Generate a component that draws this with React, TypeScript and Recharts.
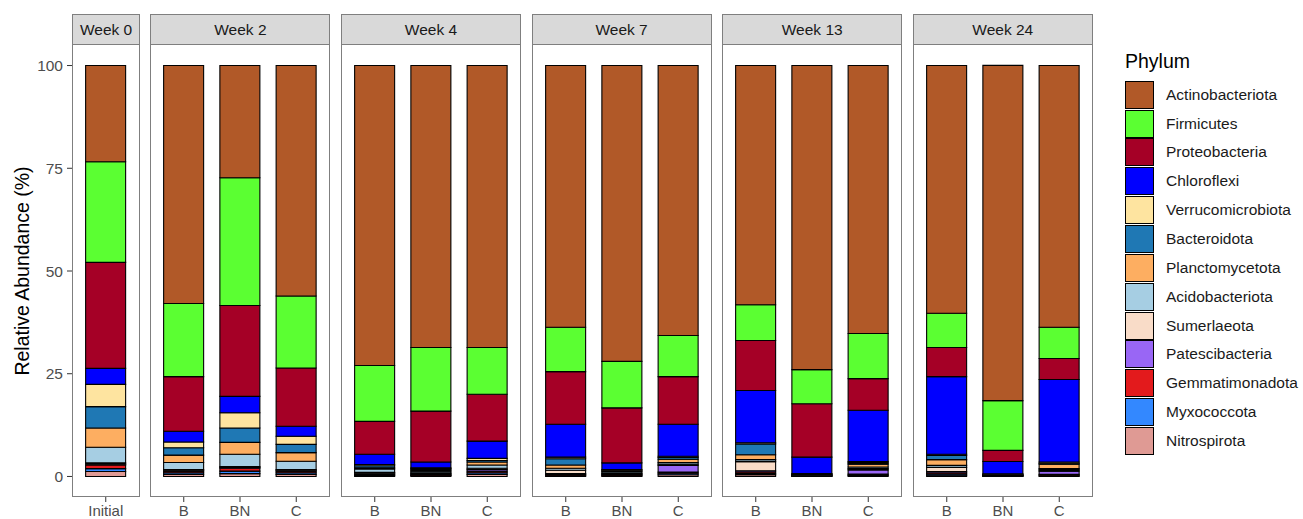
import React from "react";
import { Bar, BarChart, XAxis, YAxis } from "recharts";

const phyla = [
  "Actinobacteriota",
  "Firmicutes",
  "Proteobacteria",
  "Chloroflexi",
  "Verrucomicrobiota",
  "Bacteroidota",
  "Planctomycetota",
  "Acidobacteriota",
  "Sumerlaeota",
  "Patescibacteria",
  "Gemmatimonadota",
  "Myxococcota",
  "Nitrospirota",
];

const phylumColors = [
  "#B15928",
  "#5BFF32",
  "#A50026",
  "#0000FF",
  "#FEE4A0",
  "#1F78B4",
  "#FDAE61",
  "#A6CEE3",
  "#F9DCC8",
  "#9966F5",
  "#E31A1C",
  "#3388FF",
  "#DF9A94",
];

const weeks = ["Week 0", "Week 2", "Week 4", "Week 7", "Week 13", "Week 24"];

// one entry per bar, left to right
const sampleLabels = ["Initial", "B", "BN", "C", "B", "BN", "C", "B", "BN", "C", "B", "BN", "C", "B", "BN", "C"];
const sampleWeek = [0, 1, 1, 1, 2, 2, 2, 3, 3, 3, 4, 4, 4, 5, 5, 5];

// relative abundance (%) per phylum, same order as sampleLabels
const actinobacteriota = [23.4, 57.9, 27.3, 56.1, 73.0, 68.6, 68.6, 63.7, 72.0, 65.7, 58.2, 74.0, 65.2, 60.3, 81.6, 63.7];
const firmicutes = [24.5, 17.8, 31.1, 17.5, 13.6, 15.5, 11.4, 10.8, 11.3, 10.0, 8.7, 8.3, 11.0, 8.3, 12.1, 7.6];
const proteobacteria = [25.8, 13.3, 22.1, 14.2, 8.0, 12.4, 11.4, 12.8, 13.4, 11.6, 12.2, 13.0, 7.7, 7.1, 2.7, 5.1];
const chloroflexi = [3.9, 2.6, 4.0, 2.4, 2.5, 1.4, 4.2, 8.0, 1.6, 7.8, 12.7, 4.0, 12.5, 18.9, 3.0, 20.1];
const verrucomicrobiota = [5.4, 1.4, 3.7, 2.0, 0.3, 0.2, 0.5, 0.4, 0.2, 0.3, 0.3, 0.1, 0.3, 0.3, 0.1, 0.3];
const bacteroidota = [5.2, 1.8, 3.5, 2.0, 0.5, 0.3, 0.4, 1.5, 0.2, 0.4, 2.6, 0.1, 0.3, 1.0, 0.1, 0.2];
const planctomycetota = [4.7, 1.8, 2.9, 2.1, 0.3, 0.3, 0.7, 0.8, 0.2, 0.8, 1.2, 0.1, 0.7, 1.4, 0.1, 1.1];
const acidobacteriota = [3.8, 1.7, 3.0, 2.0, 0.8, 0.4, 0.8, 0.5, 0.4, 0.4, 0.5, 0.1, 0.4, 0.5, 0.1, 0.3];
const sumerlaeota = [0.3, 0.2, 0.2, 0.2, 0.2, 0.2, 0.3, 0.8, 0.1, 0.3, 2.2, 0.1, 0.3, 1.0, 0.05, 0.3];
const patescibacteria = [0.2, 0.2, 0.2, 0.2, 0.2, 0.2, 0.4, 0.2, 0.2, 1.6, 0.3, 0.05, 1.0, 0.3, 0.05, 0.8];
const gemmatimonadota = [0.9, 0.4, 0.7, 0.4, 0.2, 0.2, 0.4, 0.2, 0.1, 0.3, 0.4, 0.05, 0.2, 0.3, 0.05, 0.2];
const myxococcota = [0.7, 0.4, 0.6, 0.4, 0.2, 0.1, 0.4, 0.2, 0.2, 0.4, 0.3, 0.05, 0.2, 0.3, 0.05, 0.2];
const nitrospirota = [1.2, 0.5, 0.7, 0.5, 0.2, 0.2, 0.5, 0.1, 0.1, 0.4, 0.4, 0.05, 0.2, 0.3, 0.05, 0.1];

const yTicks = [0, 25, 50, 75, 100];

const phylumValues = [
  actinobacteriota,
  firmicutes,
  proteobacteria,
  chloroflexi,
  verrucomicrobiota,
  bacteroidota,
  planctomycetota,
  acidobacteriota,
  sumerlaeota,
  patescibacteria,
  gemmatimonadota,
  myxococcota,
  nitrospirota,
];

const FONT = "'Liberation Sans', Arial, Helvetica, sans-serif";
const BORDER = "#7F7F7F";

// layout (ggplot-like free-space facets)
const UNIT = 56.25;
const GAP = 10.6;
const LEFT0 = 72.3;
const STRIP_TOP = 14;
const STRIP_H = 31;
const PANEL_TOP = 45;
const PANEL_H = 452;
const AXIS_H = 26;
const Y_AXIS_W = 72;

function rowsFor(week: number) {
  const rows: Record<string, string | number>[] = [];
  sampleLabels.forEach((label, i) => {
    if (sampleWeek[i] !== week) return;
    const row: Record<string, string | number> = { label };
    phyla.forEach((p, k) => {
      row[p] = phylumValues[k][i];
    });
    rows.push(row);
  });
  return rows;
}

function Facet({ week, left, width }: { week: number; left: number; width: number }) {
  const data = rowsFor(week);
  const withAxis = week === 0;
  const chartLeft = withAxis ? left - Y_AXIS_W : left;
  const chartWidth = withAxis ? width + Y_AXIS_W : width;
  const pad = UNIT * 0.1;

  return (
    <>
      <div
        style={{
          position: "absolute",
          left,
          top: STRIP_TOP,
          width,
          height: STRIP_H,
          boxSizing: "border-box",
          background: "#D9D9D9",
          border: `1px solid ${BORDER}`,
          display: "flex",
          alignItems: "center",
          justifyContent: "center",
          fontSize: 15.5,
          color: "#1A1A1A",
        }}
      >
        {weeks[week]}
      </div>
      <div style={{ position: "absolute", left: chartLeft, top: PANEL_TOP }}>
        <BarChart
          width={chartWidth}
          height={PANEL_H + AXIS_H}
          data={data}
          margin={{ top: 0, right: 0, bottom: 0, left: 0 }}
        >
          <XAxis
            dataKey="label"
            height={AXIS_H}
            interval={0}
            axisLine={false}
            tickSize={5}
            tickMargin={3}
            tickLine={{ stroke: "#333333" }}
            tick={{ fill: "#4D4D4D", fontSize: 15, fontFamily: FONT }}
            padding={{ left: pad, right: pad }}
          />
          <YAxis
            hide={!withAxis}
            width={Y_AXIS_W}
            type="number"
            domain={[-5, 105]}
            ticks={yTicks}
            axisLine={false}
            tickSize={5}
            tickMargin={4}
            tickLine={{ stroke: "#333333" }}
            tick={{ fill: "#4D4D4D", fontSize: 15.5, fontFamily: FONT }}
          />
          {phyla
            .map((p, k) => (
              <Bar
                key={p}
                dataKey={p}
                stackId="a"
                fill={phylumColors[k]}
                stroke="#000000"
                strokeWidth={1.1}
                barSize={40}
                isAnimationActive={false}
              />
            ))
            .reverse()}
        </BarChart>
      </div>
      <div
        style={{
          position: "absolute",
          left,
          top: PANEL_TOP - 1,
          width,
          height: PANEL_H + 1,
          boxSizing: "border-box",
          border: `1px solid ${BORDER}`,
          pointerEvents: "none",
        }}
      />
    </>
  );
}

export default function App() {
  const counts = weeks.map((_, w) => sampleWeek.filter((s) => s === w).length);
  let x = LEFT0;
  const facets = counts.map((n, w) => {
    const width = (n + 0.2) * UNIT;
    const f = <Facet key={w} week={w} left={x} width={width} />;
    x += width + GAP;
    return f;
  });

  return (
    <div
      style={{
        position: "absolute",
        left: 0,
        top: 0,
        width: 1303,
        height: 519,
        overflow: "hidden",
        background: "#FFFFFF",
        fontFamily: FONT,
      }}
    >
      <div
        style={{
          position: "absolute",
          left: 22,
          top: PANEL_TOP + PANEL_H / 2,
          transform: "translate(-50%, -50%) rotate(-90deg)",
          whiteSpace: "nowrap",
          fontSize: 19.5,
          color: "#000000",
        }}
      >
        Relative Abundance (%)
      </div>
      {facets}
      <div
        style={{
          position: "absolute",
          left: 1125,
          top: 50,
          fontSize: 19.5,
          color: "#000000",
        }}
      >
        Phylum
      </div>
      {phyla.map((p, k) => (
        <div
          key={p}
          style={{
            position: "absolute",
            left: 1125,
            top: 80.7 + k * 28.85,
            height: 28,
            display: "flex",
            alignItems: "center",
          }}
        >
          <div
            style={{
              width: 29,
              height: 28,
              boxSizing: "border-box",
              background: phylumColors[k],
              border: "1.2px solid #000000",
            }}
          />
          <span style={{ marginLeft: 12, fontSize: 15.5, color: "#1A1A1A" }}>{p}</span>
        </div>
      ))}
    </div>
  );
}
